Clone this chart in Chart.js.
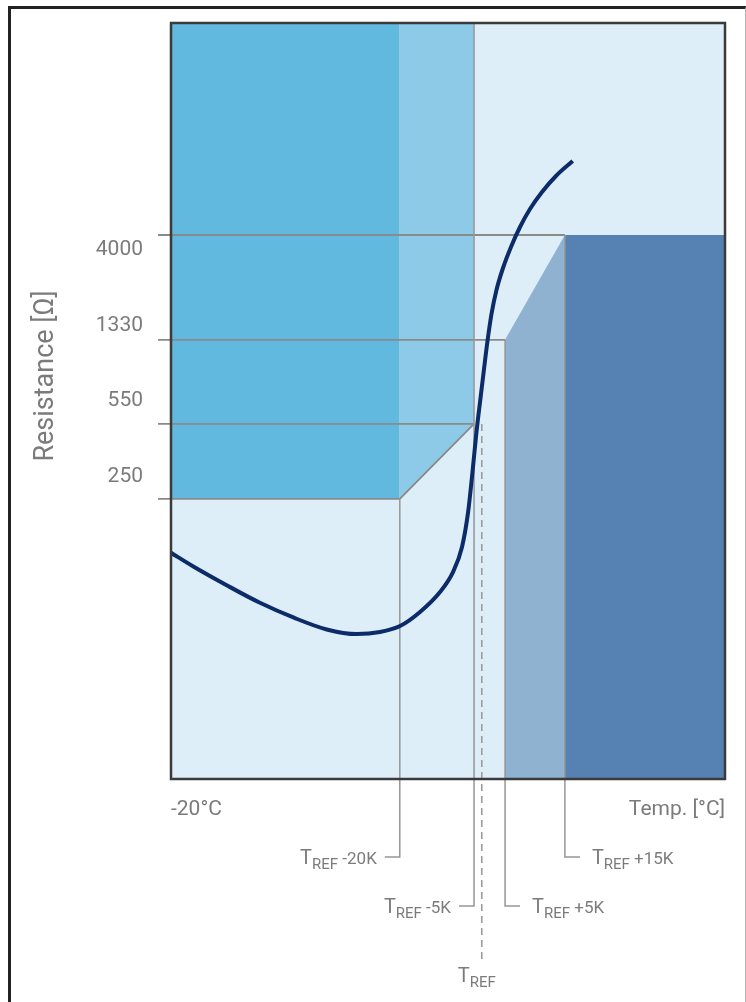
<!DOCTYPE html>
<html>
<head>
<meta charset="utf-8">
<title>NTC resistance vs temperature</title>
<script src="https://cdn.jsdelivr.net/npm/chart.js@4/dist/chart.umd.min.js"></script>
<style>
  html, body { margin: 0; padding: 0; background: #fff; overflow: hidden; }
  #wrap { position: relative; width: 746px; height: 1002px; }
  #frame { position: absolute; left: 8px; top: 6px; width: 734px; height: 996px;
           border-left: 3px solid #222; border-top: 3px solid #222; border-right: 1px solid #b4b4b4; }
  #chart { position: absolute; left: 0; top: 0; }
</style>
</head>
<body>
<div id="wrap">
  <div id="frame"></div>
  <canvas id="chart" width="746" height="1002"></canvas>
</div>
<script>
// x is a schematic temperature axis: 0 = -20°C (left edge), 100 = right edge
var xMin = 0, xMax = 100;
// y is resistance in ohms, log scale
var yMin = 13.2, yMax = 37070;
var TICK_X = -2.35; // short tick stub left of the frame

// sensor curve (temperature position, resistance)
var curveX = [0, 4.03, 10.05, 16.06, 22.08, 28.1, 33.52, 37.73, 41.34, 44.95, 48.56, 50.9, 52.53, 53.61, 54.42,
              55.14, 55.87, 56.5, 57.13, 57.85, 58.75, 59.93, 61.37, 63.0, 64.8, 66.97, 69.49, 72.51];
var curveR = [142, 123, 101, 84, 72, 63.5, 60.5, 61.8, 65.8, 76.3, 94.1, 116, 151, 216, 332,
              505, 722, 979, 1314, 1745, 2245, 2828, 3527, 4350, 5255, 6283, 7433, 8700];

// resistance levels and where each level line stops
var levelR = [250, 550, 1330, 4000];
var levelEndX = [41.3, 54.7, 60.3, 71.1];

// temperature markers around T_REF
var markerNames = ['-20K', '-5K', '', '+5K', '+15K'];
var markerX = [41.3, 54.7, 56.1, 60.3, 71.1];
var markerFrom = [250, yMax, 550, 1330, 4000];

var resistanceTicks = ['4000', '1330', '550', '250'];
var tempTicks = ['-20°C', 'Temp. [°C]'];

var textColor = '#7b7b7b';
var lineGray = '#8a8a8a';

function pts(xs, ys) {
  return xs.map(function(x, i) { return { x: x, y: ys[i] }; });
}

var datasets = [];
datasets.push({
  label: 'R(T)',
  data: pts(curveX, curveR),
  borderColor: '#0c2b69',
  borderWidth: 4,
  pointRadius: 0,
  cubicInterpolationMode: 'monotone',
  fill: false,
  order: 0
});
levelR.forEach(function(r, i) {
  datasets.push({
    data: [{ x: TICK_X, y: r }, { x: levelEndX[i], y: r }],
    borderColor: lineGray,
    borderWidth: 1.8,
    pointRadius: 0,
    fill: false,
    clip: false,
    order: 1
  });
});
// band blocks
datasets.push({
  data: [{ x: xMin, y: levelR[0] }, { x: markerX[0], y: levelR[0] }],
  backgroundColor: '#62b9df', borderColor: 'rgba(0,0,0,0)', pointRadius: 0, fill: 'end', order: 3
});
datasets.push({
  data: [{ x: markerX[0], y: levelR[0] }, { x: markerX[1], y: levelR[1] }],
  backgroundColor: '#8dcae8', borderColor: lineGray, borderWidth: 1.8, pointRadius: 0, fill: 'end', order: 2
});
datasets.push({
  data: [{ x: markerX[3], y: levelR[2] }, { x: markerX[4], y: levelR[3] }],
  backgroundColor: '#8eb2d0', borderColor: 'rgba(0,0,0,0)', pointRadius: 0, fill: 'start', order: 3
});
datasets.push({
  data: [{ x: markerX[4], y: levelR[3] }, { x: xMax, y: levelR[3] }],
  backgroundColor: '#5682b3', borderColor: 'rgba(0,0,0,0)', pointRadius: 0, fill: 'start', order: 3
});
datasets.forEach(function(d) { d.yAxisID = 'y'; d.xAxisID = 'x'; });

// y tick labels sit evenly spaced on a helper category axis
var yLabLabels = ['', '', ''].concat(resistanceTicks, ['', '', '', '']);

function drawTref(ctx, x, base, rest, align) {
  ctx.textBaseline = 'alphabetic';
  ctx.textAlign = 'left';
  var fT = '20px Roboto', fS = '15px Roboto', fR = '17px Roboto';
  ctx.font = fT; var wT = ctx.measureText('T').width;
  ctx.font = fS; var wS = ctx.measureText('REF').width;
  ctx.font = fR; var wR = rest ? ctx.measureText(' ' + rest).width : 0;
  var total = wT + wS + wR;
  var x0 = align == 'right' ? x - total : align == 'center' ? x - total / 2 : x;
  ctx.fillStyle = textColor;
  ctx.font = fT; ctx.fillText('T', x0, base);
  ctx.font = fS; ctx.fillText('REF', x0 + wT, base + 5);
  if (rest) { ctx.font = fR; ctx.fillText(' ' + rest, x0 + wT + wS, base); }
}

var markerSide = ['left', 'left', 'below', 'right', 'right'];
var rowOffset = [78, 127, 183, 127, 78];

var schematic = {
  id: 'schematic',
  beforeDatasetsDraw: function(chart) {
    var a = chart.chartArea, ctx = chart.ctx;
    ctx.save();
    ctx.fillStyle = '#deeef8';
    ctx.fillRect(a.left, a.top, a.right - a.left, a.bottom - a.top);
    ctx.restore();
  },
  beforeDatasetDraw: function(chart, args) {
    if (args.index !== 0) return;
    var a = chart.chartArea, ctx = chart.ctx;
    var xs = chart.scales.x, ys = chart.scales.y;
    ctx.save();
    markerX.forEach(function(mx, i) {
      var px = xs.getPixelForValue(mx);
      var top = ys.getPixelForValue(markerFrom[i]);
      var rowY = a.bottom + rowOffset[i];
      ctx.strokeStyle = '#969696';
      ctx.lineWidth = 1.5;
      ctx.setLineDash(markerSide[i] == 'below' ? [7, 5] : []);
      ctx.beginPath();
      ctx.moveTo(px, top);
      ctx.lineTo(px, rowY);
      if (markerSide[i] == 'left') ctx.lineTo(px - 15, rowY);
      if (markerSide[i] == 'right') ctx.lineTo(px + 15, rowY);
      ctx.stroke();
      ctx.setLineDash([]);
      if (markerSide[i] == 'left') drawTref(ctx, px - 23, rowY + 7, markerNames[i], 'right');
      else if (markerSide[i] == 'right') drawTref(ctx, px + 27, rowY + 7, markerNames[i], 'left');
      else drawTref(ctx, px - 5, rowY + 20, markerNames[i], 'center');
    });
    ctx.restore();
  },
  afterDatasetsDraw: function(chart) {
    var a = chart.chartArea, ctx = chart.ctx;
    ctx.save();
    ctx.strokeStyle = '#3a3a3a';
    ctx.lineWidth = 2.5;
    ctx.strokeRect(a.left, a.top, a.right - a.left, a.bottom - a.top);
    // y axis title
    ctx.translate(a.left - 118, (a.top + a.bottom) / 2 - 25);
    ctx.rotate(-Math.PI / 2);
    ctx.fillStyle = textColor;
    ctx.font = '27px Roboto';
    ctx.textAlign = 'center';
    ctx.textBaseline = 'alphabetic';
    ctx.fillText('Resistance [Ω]', 0, 0);
    ctx.restore();
  }
};

new Chart(document.getElementById('chart'), {
  type: 'line',
  data: { datasets: datasets },
  options: {
    responsive: false,
    animation: false,
    devicePixelRatio: 1,
    layout: { padding: { top: 23, right: 21, left: 0, bottom: 0 } },
    plugins: { legend: { display: false }, tooltip: { enabled: false } },
    scales: {
      x: {
        type: 'linear', min: xMin, max: xMax,
        afterBuildTicks: function(s) { s.ticks = [{ value: xMin }, { value: xMax }]; },
        afterFit: function(s) { s.height = 223; s.paddingLeft = 0; s.paddingRight = 0; },
        grid: { display: false, drawTicks: false },
        border: { display: false },
        ticks: {
          callback: function(v, i) { return tempTicks[i]; },
          align: 'inner', padding: 18, maxRotation: 0, autoSkip: false,
          color: textColor, font: { family: 'Roboto', size: 21 }
        }
      },
      y: { type: 'logarithmic', min: yMin, max: yMax, display: false },
      yLab: {
        type: 'category', position: 'left', labels: yLabLabels,
        afterFit: function(s) { s.width = 171; s.paddingTop = 0; s.paddingBottom = 0; },
        grid: { display: false, drawTicks: false },
        border: { display: false },
        ticks: { padding: 28, autoSkip: false, color: textColor, font: { family: 'Roboto', size: 21 } }
      }
    }
  },
  plugins: [schematic]
});
</script>
</body>
</html>
